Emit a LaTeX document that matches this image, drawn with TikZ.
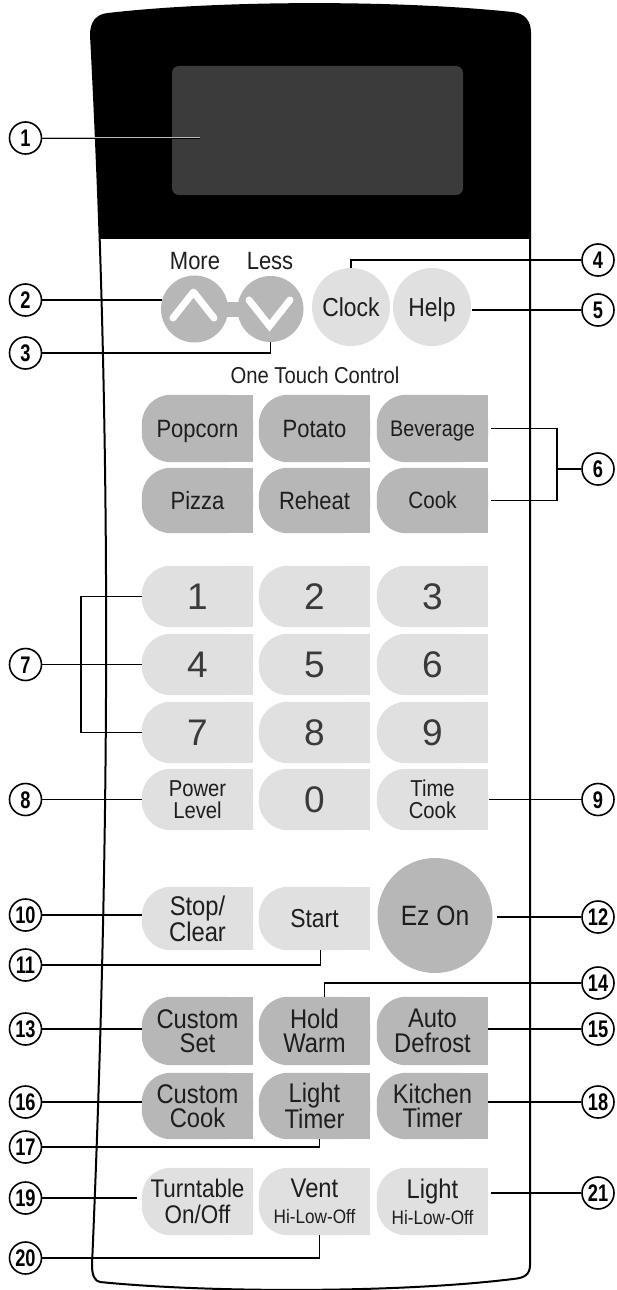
\documentclass[tikz,border=0pt]{standalone}
\usepackage{fontspec}
\setmainfont{Liberation Sans}
\newfontfamily\cnd{Liberation Sans}[FakeStretch=0.88]
\newfontfamily\cndb{Liberation Sans}[FakeStretch=0.76]
\definecolor{dk}{HTML}{B7B7B7}
\definecolor{lt}{HTML}{E0E0E0}
\definecolor{disp}{HTML}{3B3B3B}
\definecolor{txt}{HTML}{1E1E1E}
\definecolor{dig}{HTML}{3A3A3A}
\pgfdeclarelayer{panel}
\pgfdeclarelayer{keys}
\pgfsetlayers{panel,keys,main}
\newcommand\keyshape[2]{%
  \begin{pgfonlayer}{keys}
    \fill[#2, rounded corners=29pt] (#1.north west) rectangle (#1.south east);
    \fill[#2] (#1.north) rectangle (#1.south east);
  \end{pgfonlayer}}
\def\outlinepath{(108,14) .. controls (220,1) and (400,1) .. (512,13)
  .. controls (524,14) and (530,21) .. (530,33) -- (530,1265)
  .. controls (530,1275) and (524,1278) .. (513,1279)
  .. controls (400,1293) and (210,1293) .. (100,1282)
  .. controls (95,1281) and (92,1276) .. (92,1265)
  .. controls (112,800) and (110,400) .. (91,35)
  .. controls (91,22) and (97,15) .. (108,14) -- cycle}
\begin{document}
\begin{tikzpicture}[x=1pt,y=-1pt,
  callout/.style={circle, draw=black, line width=1.6pt, fill=white, minimum size=32pt,
    inner sep=0pt, font=\cndb\bfseries\fontsize{24}{24}\selectfont, text height=17pt, text depth=0pt},
  lead/.style={draw=black, line width=1.3pt},
  leadone/.style={draw=gray!55, line width=0.6pt, double=black, double distance=0.8pt},
  key/.style={inner sep=0pt, minimum width=111pt, align=center, text=txt,
    font=\cnd\fontsize{27}{24.5}\selectfont},
  one/.style={text height=18.6pt, text depth=0pt, font=\cnd\fontsize{26}{26}\selectfont},
  touch/.style={text height=17.9pt, text depth=0pt, font=\cnd\fontsize{25}{25}\selectfont},
  small/.style={font=\cnd\fontsize{23}{22.5}\selectfont},
  digit/.style={text height=26.5pt, text depth=0pt, text=dig, font=\fontsize{37}{37}\selectfont},
  roundkey/.style={circle, inner sep=0pt, text=txt}
]
\useasboundingbox (0,0) rectangle (617,1290);

% panel
\begin{pgfonlayer}{panel}
  \fill[white] (0,0) rectangle (617,1290);
  \begin{scope}
    \clip \outlinepath;
    \fill[black] (0,0) rectangle (617,239);
  \end{scope}
  \draw[line width=2pt, line join=round] \outlinepath;
\end{pgfonlayer}

% display
\node[fill=disp, rounded corners=7pt, minimum width=291pt, minimum height=129pt, inner sep=0pt] (display) at (317.5,130.5) {};
\coordinate (d1) at (200,138);

% more / less
\node[font=\cnd\fontsize{25}{25}\selectfont, anchor=base, text=txt] (more) at (195,269) {More};
\node[font=\cnd\fontsize{25}{25}\selectfont, anchor=base, text=txt] (less) at (270,269) {Less};
\begin{pgfonlayer}{keys}
  \fill[dk] (210,302) rectangle (255,317);
\end{pgfonlayer}
\node[roundkey, fill=dk, minimum size=67pt] (up) at (194.5,309) {};
\node[roundkey, fill=dk, minimum size=66pt] (dn) at (270.5,309) {};
\draw[white, line width=7pt, line cap=round, line join=round] (173,318) -- (193.5,292) -- (214,318);
\draw[white, line width=7pt, line cap=round, line join=miter] (249,300) -- (269.5,326) -- (290,300);
\node[roundkey, one, fill=lt, minimum size=78pt] (clock) at (351,307) {Clock};
\node[roundkey, one, fill=lt, minimum size=78pt] (help) at (432,307) {Help};

\node[font=\cnd\fontsize{23}{23}\selectfont, anchor=base, text=txt] (otc) at (315,383) {One Touch Control};

% one touch rows
\node[key, touch, minimum height=67pt] (popcorn) at (197.5,428.5) {Popcorn}; \keyshape{popcorn}{dk}
\node[key, touch, minimum height=67pt] (potato) at (314.5,428.5) {Potato}; \keyshape{potato}{dk}
\node[key, touch, minimum height=67pt, font=\cnd\fontsize{22.5}{22.5}\selectfont, text height=16.1pt] (bev) at (432.5,428.5) {Beverage}; \keyshape{bev}{dk}
\node[key, touch, minimum height=65pt] (pizza) at (197.5,500.5) {Pizza}; \keyshape{pizza}{dk}
\node[key, touch, minimum height=65pt] (reheat) at (314.5,500.5) {Reheat}; \keyshape{reheat}{dk}
\node[key, touch, minimum height=65pt, font=\cnd\fontsize{23.5}{23.5}\selectfont, text height=16.8pt] (cook) at (432.5,500.5) {Cook}; \keyshape{cook}{dk}

% number pad
\node[key, digit, minimum height=61pt] (k1) at (197.5,596.5) {1}; \keyshape{k1}{lt}
\node[key, digit, minimum height=61pt] (k2) at (314.5,596.5) {2}; \keyshape{k2}{lt}
\node[key, digit, minimum height=61pt] (k3) at (432.5,596.5) {3}; \keyshape{k3}{lt}
\node[key, digit, minimum height=61pt] (k4) at (197.5,664.5) {4}; \keyshape{k4}{lt}
\node[key, digit, minimum height=61pt] (k5) at (314.5,664.5) {5}; \keyshape{k5}{lt}
\node[key, digit, minimum height=61pt] (k6) at (432.5,664.5) {6}; \keyshape{k6}{lt}
\node[key, digit, minimum height=61pt] (k7) at (197.5,732.5) {7}; \keyshape{k7}{lt}
\node[key, digit, minimum height=61pt] (k8) at (314.5,732.5) {8}; \keyshape{k8}{lt}
\node[key, digit, minimum height=61pt] (k9) at (432.5,732.5) {9}; \keyshape{k9}{lt}
\node[key, small, minimum height=61pt] (power) at (197.5,799.5) {Power\\Level}; \keyshape{power}{lt}
\node[key, digit, minimum height=61pt] (k0) at (314.5,799.5) {0}; \keyshape{k0}{lt}
\node[key, small, minimum height=61pt] (timecook) at (432.5,799.5) {Time\\Cook}; \keyshape{timecook}{lt}

% stop / start / ez on
\node[key, minimum height=63pt] (stop) at (197.5,918.5) {Stop/\\Clear}; \keyshape{stop}{lt}
\node[key, one, minimum height=63pt] (start) at (314.5,918.5) {Start}; \keyshape{start}{lt}
\node[roundkey, fill=dk, minimum size=115pt, text height=20pt, text depth=0pt, font=\cnd\fontsize{28}{28}\selectfont] (ez) at (435,915.5) {Ez On};

% lower keys
\node[key, minimum height=68pt] (cset) at (197.5,1031) {Custom\\Set}; \keyshape{cset}{dk}
\node[key, minimum height=68pt] (hold) at (314.5,1031) {Hold\\Warm}; \keyshape{hold}{dk}
\node[key, minimum height=68pt] (autod) at (432.5,1031) {Auto\\Defrost}; \keyshape{autod}{dk}
\node[key, minimum height=66pt] (ccook) at (197.5,1106) {Custom\\Cook}; \keyshape{ccook}{dk}
\node[key, minimum height=66pt] (ltimer) at (314.5,1106) {Light\\Timer}; \keyshape{ltimer}{dk}
\node[key, minimum height=66pt] (ktimer) at (432.5,1106) {Kitchen\\Timer}; \keyshape{ktimer}{dk}
\node[key, minimum height=67pt, font=\cnd\fontsize{25.5}{26}\selectfont] (turn) at (197.5,1201.5) {Turntable\\On/Off}; \keyshape{turn}{lt}
\node[key, minimum height=67pt, font=\cnd\fontsize{27}{26}\selectfont] (vent) at (314.5,1201.5) {Vent\\{\fontsize{19.5}{19.5}\selectfont Hi-Low-Off}}; \keyshape{vent}{lt}
\node[key, minimum height=67pt, font=\cnd\fontsize{27}{26}\selectfont] (lighthl) at (432.5,1201.5) {Light\\{\fontsize{19.5}{19.5}\selectfont Hi-Low-Off}}; \keyshape{lighthl}{lt}

% callouts
\foreach \n/\x/\y in {1/25.5/138, 2/25.5/300, 3/25.5/353, 4/598/260, 5/598/310, 6/598/469,
  7/25.5/664.5, 8/25.5/799.5, 9/598/799.5, 10/25.5/915, 11/25.5/965, 12/598/917,
  13/25.5/1029, 14/598/983, 15/598/1029, 16/25.5/1102, 17/25.5/1147, 18/598/1102,
  19/25.5/1198, 20/25.5/1258, 21/598/1193}
  \node[callout] (c\n) at (\x,\y) {\n};

\coordinate (b6) at (557,469);
\coordinate (b7) at (81,664.5);

\draw[leadone] (c1) -- (d1);
\draw[lead] (c2) -- (c2 -| up.165);
\draw[lead] (c3) -| (dn.south);
\draw[lead] (clock.north) |- (c4);
\draw[lead, shorten <=1pt] (help.east |- c5) -- (c5);
\draw[lead, shorten <=3pt] (bev.east) -| (b6);
\draw[lead, shorten >=3pt] (b6) |- (cook.east);
\draw[lead] (b6) -- (c6);
\draw[lead] (k1.west) -| (b7) |- (k7.west);
\draw[lead] (c7) -- (k4.west);
\draw[lead] (c8) -- (power.west);
\draw[lead, shorten <=1pt] (timecook.east) -- (c9);
\draw[lead] (c10) -- (c10 -| stop.west);
\draw[lead] (c11) -| ([xshift=6pt]start.south);
\draw[lead, shorten <=4pt] (ez.east |- c12) -- (c12);
\draw[lead] (c13) -- (c13 -| cset.west);
\draw[lead] ([xshift=10pt]hold.north) |- (c14);
\draw[lead] (autod.east |- c15) -- (c15);
\draw[lead] (c16) -- (c16 -| ccook.west);
\draw[lead] (c17) -| ([xshift=5pt]ltimer.south);
\draw[lead] (ktimer.east |- c18) -- (c18);
\draw[lead, shorten >=5pt] (c19) -- (c19 -| turn.west);
\draw[lead] (c20) -| ([xshift=5pt]vent.south);
\draw[lead, shorten <=3pt] (lighthl.east |- c21) -- (c21);
\end{tikzpicture}
\end{document}
